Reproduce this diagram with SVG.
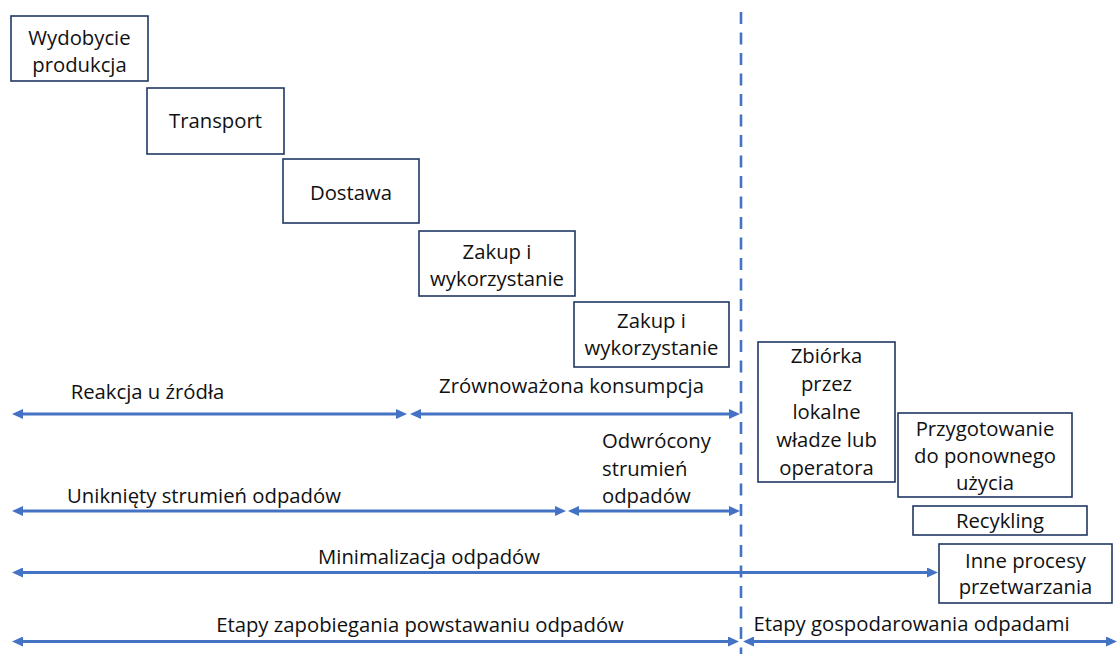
<svg xmlns="http://www.w3.org/2000/svg" width="1118" height="654" viewBox="0 0 1118 654">
  <style>
    .box { fill: #ffffff; stroke: #203864; stroke-width: 1.6; }
    .t { font-family: "Open Sans", "Liberation Sans", sans-serif; font-size: 20.3px; fill: #111111; text-anchor: middle; }
    .tl { text-anchor: start; }
    .arr { stroke: #4472C4; stroke-width: 3; fill: none; marker-start: url(#ah); marker-end: url(#ah); }
    .div { stroke: #4472C4; stroke-width: 2.6; stroke-dasharray: 12 8.5; fill: none; }
  </style>
  <defs>
    <marker id="ah" markerUnits="userSpaceOnUse" markerWidth="11" markerHeight="10" viewBox="0 0 11 10" refX="1" refY="5" orient="auto-start-reverse">
      <path d="M0,0 L11,5 L0,10 z" fill="#4472C4"/>
    </marker>
  </defs>
  <rect width="1118" height="654" fill="#ffffff"/>

  <g id="n1">
    <rect class="box" x="11" y="16" width="137" height="65"/>
    <text class="t" x="79.5" y="45">Wydobycie</text>
    <text class="t" x="79.5" y="72">produkcja</text>
  </g>
  <g id="n2">
    <rect class="box" x="147" y="88" width="137" height="66"/>
    <text class="t" x="215.5" y="128">Transport</text>
  </g>
  <g id="n3">
    <rect class="box" x="283" y="159" width="136" height="64"/>
    <text class="t" x="351" y="200">Dostawa</text>
  </g>
  <g id="n4">
    <rect class="box" x="419" y="231" width="156" height="65"/>
    <text class="t" x="497" y="259">Zakup i</text>
    <text class="t" x="497" y="286">wykorzystanie</text>
  </g>
  <g id="n5">
    <rect class="box" x="574" y="302" width="155" height="65"/>
    <text class="t" x="651.5" y="328">Zakup i</text>
    <text class="t" x="651.5" y="355">wykorzystanie</text>
  </g>
  <g id="n6">
    <rect class="box" x="758" y="342" width="137" height="140"/>
    <text class="t" x="826.5" y="363">Zbiórka</text>
    <text class="t" x="826.5" y="391">przez</text>
    <text class="t" x="826.5" y="419">lokalne</text>
    <text class="t" x="826.5" y="447">władze lub</text>
    <text class="t" x="826.5" y="475">operatora</text>
  </g>
  <g id="n7">
    <rect class="box" x="898" y="413" width="174" height="84"/>
    <text class="t" x="985" y="436">Przygotowanie</text>
    <text class="t" x="985" y="463">do ponownego</text>
    <text class="t" x="985" y="490">użycia</text>
  </g>
  <g id="n8">
    <rect class="box" x="913" y="506" width="174" height="29"/>
    <text class="t" x="1000" y="528">Recykling</text>
  </g>
  <g id="n9">
    <rect class="box" x="939" y="544" width="173" height="59"/>
    <text class="t" x="1025.5" y="568">Inne procesy</text>
    <text class="t" x="1025.5" y="594">przetwarzania</text>
  </g>

  <g id="connectors">
    <line class="div" x1="741" y1="12" x2="741" y2="654"/>
    <line class="arr" x1="22" y1="414" x2="397" y2="414"/>
    <line class="arr" x1="420" y1="414" x2="730" y2="414"/>
    <line class="arr" x1="22" y1="511" x2="556" y2="511"/>
    <line class="arr" x1="578" y1="511" x2="730" y2="511"/>
    <line class="arr" x1="22" y1="572.5" x2="928" y2="572.5"/>
    <line class="arr" x1="22" y1="641.5" x2="729" y2="641.5"/>
    <line class="arr" x1="753" y1="641.5" x2="1107" y2="641.5"/>
  </g>

  <g id="labels">
    <text class="t" x="147.5" y="399">Reakcja u źródła</text>
    <text class="t" x="571.5" y="393">Zrównoważona konsumpcja</text>
    <text class="t tl" x="602" y="448">Odwrócony</text>
    <text class="t tl" x="602" y="476">strumień</text>
    <text class="t tl" x="602" y="503">odpadów</text>
    <text class="t" x="204" y="503">Uniknięty strumień odpadów</text>
    <text class="t" x="429" y="564">Minimalizacja odpadów</text>
    <text class="t" x="420" y="632">Etapy zapobiegania powstawaniu odpadów</text>
    <text class="t" x="911.5" y="631">Etapy gospodarowania odpadami</text>
  </g>
</svg>
